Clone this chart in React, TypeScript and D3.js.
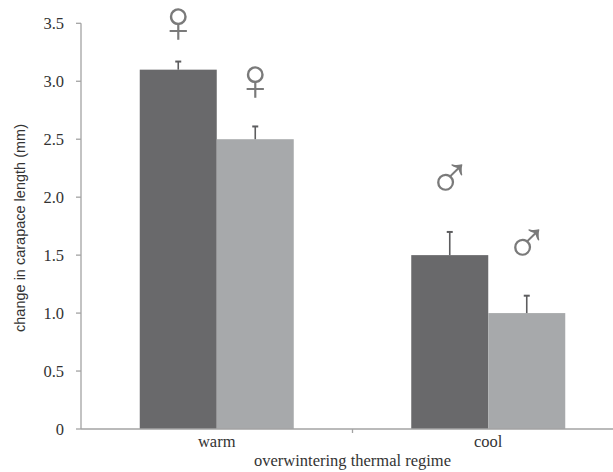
import React from 'react';
import * as d3 from 'd3';

const WIDTH = 613;
const HEIGHT = 472;

// data
const regimes = ['warm', 'cool'];
const groups = ['dark', 'light'];
const means = [[3.1, 2.5], [1.5, 1.0]];
const upperErr = [[3.17, 2.61], [1.7, 1.15]];
const sexSymbols = [['♀', '♀'], ['♂', '♂']];
const symbolPos = [[3.52, 3.02], [2.17, 1.61]];
const yTicks = [0, 0.5, 1, 1.5, 2, 2.5, 3, 3.5];
const yTickLabels = ['0', '0.5', '1.0', '1.5', '2.0', '2.5', '3.0', '3.5'];

const barColors: Record<string, string> = { dark: '#69696b', light: '#a7a9ab' };
const axisColor = '#a3a3a3';
const serif = '"Liberation Serif", "DejaVu Serif", serif';
const sans = '"Liberation Sans", Arial, sans-serif';

export default function App() {
  const x0 = d3.scaleBand<string>().domain(regimes).range([81, 624]).padding(0);
  const x1 = d3.scaleBand<string>().domain(groups).range([0, x0.bandwidth()])
    .paddingInner(0).paddingOuter(0.763);
  const y = d3.scaleLinear().domain([0, 3.5]).range([429, 23.3]);

  const boundaries = regimes.slice(1).map(r => x0(r) as number);

  return (
    <svg width={WIDTH} height={HEIGHT} style={{ position: 'absolute', left: 0, top: 0, background: '#fff' }}>
      {/* bars */}
      {regimes.map((r, i) => (
        <g key={r} transform={`translate(${x0(r)},0)`}>
          {groups.map((g, j) => {
            const bx = x1(g) as number;
            const cx = bx + x1.bandwidth() / 2;
            return (
              <g key={g}>
                <rect x={bx} y={y(means[i][j])} width={x1.bandwidth()} height={y(0) - y(means[i][j])}
                  fill={barColors[g]} />
                <line x1={cx} x2={cx} y1={y(means[i][j])} y2={y(upperErr[i][j])} stroke="#5d5d5f" strokeWidth={1.6} />
                <line x1={cx - 3} x2={cx + 3} y1={y(upperErr[i][j])} y2={y(upperErr[i][j])} stroke="#5d5d5f" strokeWidth={2} />
                <text x={cx} y={y(symbolPos[i][j])} textAnchor="middle" dominantBaseline="central"
                  fontFamily='"DejaVu Sans", sans-serif' fontWeight={200} fontSize={60} fill="#7a7a7a">{sexSymbols[i][j]}</text>
              </g>
            );
          })}
        </g>
      ))}

      {/* y axis */}
      <line x1={81} x2={81} y1={y(3.5)} y2={y(0)} stroke={axisColor} strokeWidth={1.3} />
      {yTicks.map((t, i) => (
        <g key={t}>
          <line x1={76} x2={81} y1={y(t)} y2={y(t)} stroke={axisColor} strokeWidth={1.3} />
          <text x={64} y={y(t)} dy="0.34em" textAnchor="end" fontFamily={serif} fontSize={16.5} fill="#333">
            {yTickLabels[i]}
          </text>
        </g>
      ))}

      {/* x axis */}
      <line x1={81} x2={WIDTH} y1={y(0)} y2={y(0)} stroke={axisColor} strokeWidth={1.3} />
      {boundaries.map((b, i) => (
        <line key={i} x1={b} x2={b} y1={y(0)} y2={y(0) + 4} stroke={axisColor} strokeWidth={1.3} />
      ))}
      {regimes.map(r => (
        <text key={r} x={(x0(r) as number) + x0.bandwidth() / 2} y={447} textAnchor="middle"
          fontFamily={serif} fontSize={16.5} fill="#333">{r}</text>
      ))}
      <text x={boundaries[0]} y={466} textAnchor="middle" fontFamily={serif} fontSize={16.5} fill="#333">
        overwintering thermal regime
      </text>

      {/* y label */}
      <text transform={`translate(25,${228}) rotate(-90)`} textAnchor="middle" fontFamily={sans}
        fontSize={14.5} fill="#333">change in carapace length (mm)</text>
    </svg>
  );
}
